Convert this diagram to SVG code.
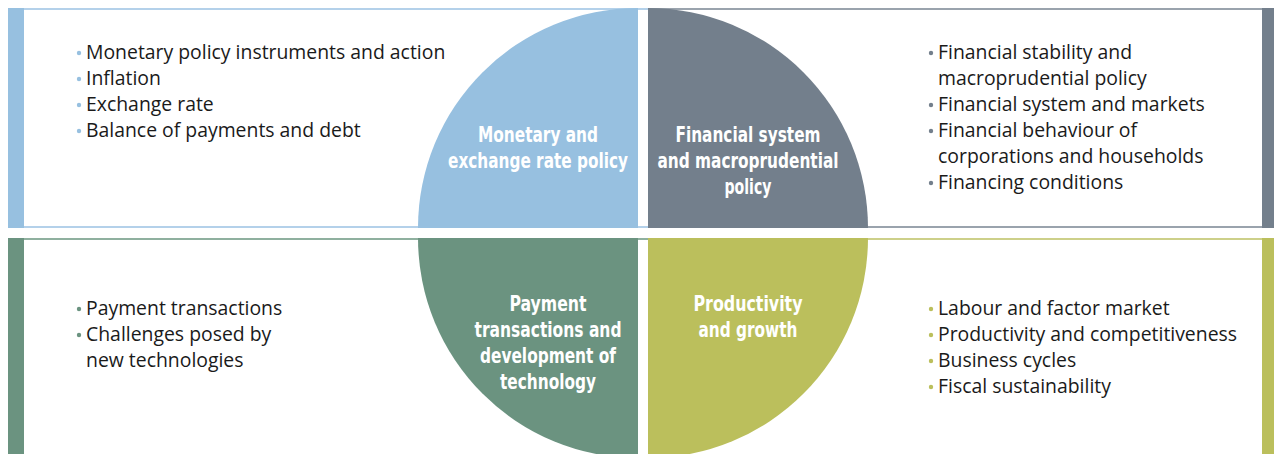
<svg xmlns="http://www.w3.org/2000/svg" width="1274" height="454" viewBox="0 0 1274 454">
<style>
.body{font-family:"Open Sans","Noto Sans",sans-serif;font-size:19.4px;fill:#1a1a1a}
.lbl{font-family:"DejaVu Sans Condensed","DejaVu Sans",sans-serif;font-weight:bold;font-size:21px;fill:#ffffff;text-anchor:middle}
.panel{fill:#ffffff;stroke-width:2}
</style>
<rect x="0" y="0" width="1274" height="454" fill="#ffffff"/>
<g id="monetary">
<rect class="panel" x="9" y="9" width="640" height="218" stroke="#b4d1ea"/>
<rect x="8" y="8" width="16" height="220" fill="#97c0e0"/>
<path d="M638,228 L418,228 A220,220 0 0 1 638,8 Z" fill="#97c0e0"/>
<text class="lbl" x="538" y="142" textLength="120" lengthAdjust="spacingAndGlyphs">Monetary and</text>
<text class="lbl" x="538" y="168" textLength="180" lengthAdjust="spacingAndGlyphs">exchange rate policy</text>
<g fill="#97c0e0"><circle cx="79" cy="53" r="2.2"/><circle cx="79" cy="79" r="2.2"/><circle cx="79" cy="105" r="2.2"/><circle cx="79" cy="131" r="2.2"/></g>
<text class="body" x="86" y="59">Monetary policy instruments and action</text>
<text class="body" x="86" y="85">Inflation</text>
<text class="body" x="86" y="111">Exchange rate</text>
<text class="body" x="86" y="137">Balance of payments and debt</text>
</g>
<g id="financial">
<rect class="panel" x="649" y="9" width="624" height="218" stroke="#9aa3ad"/>
<rect x="1262" y="8" width="12" height="220" fill="#737f8c"/>
<path d="M648,228 L648,8 A220,220 0 0 1 868,228 Z" fill="#737f8c"/>
<text class="lbl" x="748" y="142" textLength="145" lengthAdjust="spacingAndGlyphs">Financial system</text>
<text class="lbl" x="748" y="168" textLength="181" lengthAdjust="spacingAndGlyphs">and macroprudential</text>
<text class="lbl" x="748" y="194" textLength="47" lengthAdjust="spacingAndGlyphs">policy</text>
<g fill="#737f8c"><circle cx="931" cy="53" r="2.2"/><circle cx="931" cy="105" r="2.2"/><circle cx="931" cy="131" r="2.2"/><circle cx="931" cy="183" r="2.2"/></g>
<text class="body" x="938" y="59">Financial stability and</text>
<text class="body" x="938" y="85">macroprudential policy</text>
<text class="body" x="938" y="111">Financial system and markets</text>
<text class="body" x="938" y="137">Financial behaviour of</text>
<text class="body" x="938" y="163">corporations and households</text>
<text class="body" x="938" y="189">Financing conditions</text>
</g>
<g id="payment">
<rect class="panel" x="9" y="239" width="640" height="230" stroke="#8fb09f"/>
<rect x="8" y="238" width="16" height="216" fill="#6b9380"/>
<path d="M638,238 L638,458 A220,220 0 0 1 418,238 Z" fill="#6b9380"/>
<text class="lbl" x="548" y="311" textLength="77" lengthAdjust="spacingAndGlyphs">Payment</text>
<text class="lbl" x="548" y="337" textLength="147" lengthAdjust="spacingAndGlyphs">transactions and</text>
<text class="lbl" x="548" y="363" textLength="136" lengthAdjust="spacingAndGlyphs">development of</text>
<text class="lbl" x="548" y="389" textLength="96" lengthAdjust="spacingAndGlyphs">technology</text>
<g fill="#6b9380"><circle cx="79" cy="309" r="2.2"/><circle cx="79" cy="335" r="2.2"/></g>
<text class="body" x="86" y="315">Payment transactions</text>
<text class="body" x="86" y="341">Challenges posed by</text>
<text class="body" x="86" y="367">new technologies</text>
</g>
<g id="productivity">
<rect class="panel" x="649" y="239" width="624" height="230" stroke="#cdd08a"/>
<rect x="1262" y="238" width="12" height="216" fill="#bbbf5c"/>
<path d="M648,238 L868,238 A220,220 0 0 1 648,458 Z" fill="#bbbf5c"/>
<text class="lbl" x="748" y="311" textLength="109" lengthAdjust="spacingAndGlyphs">Productivity</text>
<text class="lbl" x="748" y="337" textLength="99" lengthAdjust="spacingAndGlyphs">and growth</text>
<g fill="#bbbf5c"><circle cx="931" cy="309" r="2.2"/><circle cx="931" cy="335" r="2.2"/><circle cx="931" cy="361" r="2.2"/><circle cx="931" cy="387" r="2.2"/></g>
<text class="body" x="938" y="315">Labour and factor market</text>
<text class="body" x="938" y="341">Productivity and competitiveness</text>
<text class="body" x="938" y="367">Business cycles</text>
<text class="body" x="938" y="393">Fiscal sustainability</text>
</g>
</svg>
